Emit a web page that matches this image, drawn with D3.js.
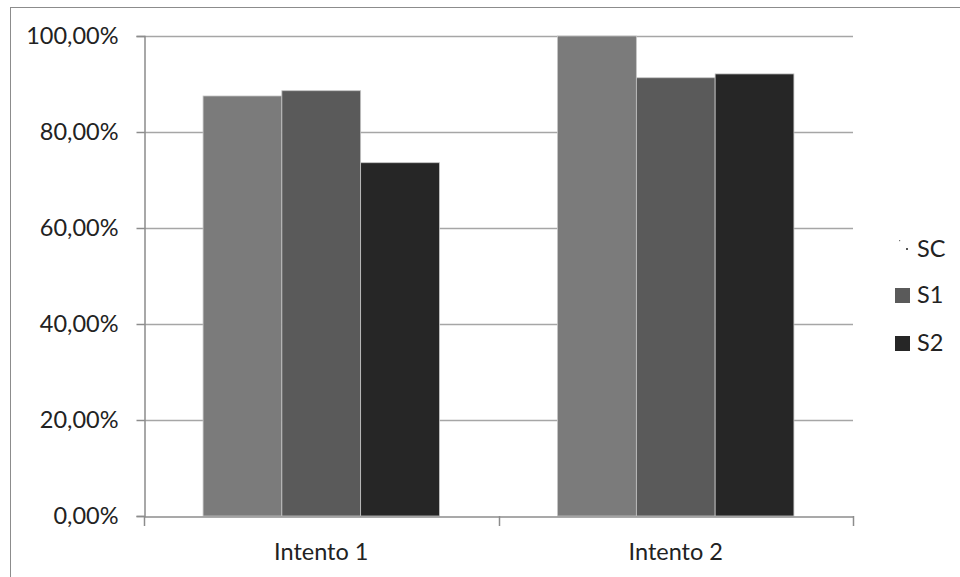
<!DOCTYPE html>
<html>
<head>
<meta charset="utf-8">
<script src="https://cdn.jsdelivr.net/npm/d3@7"></script>
<style>
html,body{margin:0;padding:0;background:#fff;}
svg{display:block;font-family:Lato,"Open Sans",sans-serif;}
</style>
</head>
<body>
<svg id="chart" width="960" height="577"></svg>
<script>
const categories = ["Intento 1", "Intento 2"];
const seriesNames = ["SC", "S1", "S2"];
const valuesSC = [0.875, 1.0];
const valuesS1 = [0.886, 0.913];
const valuesS2 = [0.736, 0.921];
const yTicks = [0, 0.2, 0.4, 0.6, 0.8, 1.0];
const seriesColors = ["#7b7b7b", "#5a5a5a", "#262626"];

(function () {
const seriesValues = [valuesSC, valuesS1, valuesS2];
const svg = d3.select("#chart");
const FS = 23.5;

// outer chart border
svg.append("rect").attr("x", 10.5).attr("y", 7.5).attr("width", 960).attr("height", 600)
  .attr("fill", "none").attr("stroke", "#8c8c8c").attr("stroke-width", 1);

const pLeft = 144, pRight = 853, pTop = 36, pBottom = 516;
const x0 = d3.scaleBand().domain(categories).range([pLeft, pRight]).padding(0);
const x1 = d3.scaleBand().domain(seriesNames).range([0, x0.bandwidth()]).paddingInner(0).paddingOuter(0.75);
const y = d3.scaleLinear().domain([0, 1]).range([pBottom, pTop]);

const fmt = v => d3.format(".2f")(v * 100).replace(".", ",") + "%";

// gridlines
svg.append("g").selectAll("line").data(yTicks.filter(t => t > 0)).join("line")
  .attr("x1", pLeft).attr("x2", pRight)
  .attr("y1", d => Math.round(y(d)) + 0.5).attr("y2", d => Math.round(y(d)) + 0.5)
  .attr("stroke", "#a6a6a6").attr("stroke-width", 1.5);

// y axis
const yAxis = d3.axisLeft(y).tickValues(yTicks).tickFormat(fmt).tickSize(8).tickPadding(18);
const gy = svg.append("g").attr("transform", `translate(${pLeft + 0.5},0)`).call(yAxis);
gy.select(".domain").attr("stroke", "#8c8c8c").attr("stroke-width", 1.5);
gy.selectAll(".tick line").attr("stroke", "#8c8c8c").attr("stroke-width", 1.5);
gy.selectAll(".tick text").attr("font-size", FS).attr("fill", "#222").attr("font-family", "Lato");

// bars
const groups = svg.append("g").selectAll("g").data(categories).join("g")
  .attr("transform", d => `translate(${x0(d)},0)`);
groups.selectAll("rect").data((c, i) => seriesNames.map((s, k) => ({s, v: seriesValues[k][i], k})))
  .join("rect")
  .attr("x", d => x1(d.s)).attr("width", x1.bandwidth())
  .attr("y", d => y(d.v)).attr("height", d => y(0) - y(d.v))
  .attr("fill", d => seriesColors[d.k])
  .attr("stroke", "#c4c4c4").attr("stroke-width", 0.8);

// x axis
const xAxis = d3.axisBottom(x0).tickSize(0).tickPadding(27);
const gx = svg.append("g").attr("transform", `translate(0,${pBottom + 0.5})`).call(xAxis);
gx.select(".domain").attr("stroke", "#8c8c8c").attr("stroke-width", 1.5);
gx.selectAll(".tick text").attr("font-size", FS).attr("fill", "#222").attr("font-family", "Lato");
// category boundary ticks
const bounds = [pLeft, pLeft + x0.bandwidth(), pRight];
svg.append("g").selectAll("line").data(bounds).join("line")
  .attr("x1", d => Math.round(d) + 0.5).attr("x2", d => Math.round(d) + 0.5)
  .attr("y1", pBottom).attr("y2", pBottom + 10)
  .attr("stroke", "#8c8c8c").attr("stroke-width", 1.5);

// legend
const legend = svg.append("g").attr("transform", "translate(895,0)");
const ly = [249, 295, 343];
const li = legend.selectAll("g").data(seriesNames).join("g")
  .attr("transform", (d, i) => `translate(0,${ly[i]})`);
li.each(function(d, i) {
  const g = d3.select(this);
  if (i === 0) {
    g.append("rect").attr("x", 4).attr("y", -9).attr("width", 1.2).attr("height", 1.2).attr("fill", "#777");
    g.append("rect").attr("x", 11).attr("y", -1).attr("width", 2).attr("height", 2).attr("fill", "#555");
  } else {
    g.append("rect").attr("x", 0).attr("y", -7).attr("width", 15).attr("height", 15)
      .attr("fill", seriesColors[i]);
  }
  g.append("text").attr("x", 22).attr("y", 0).attr("dy", "0.36em")
    .attr("font-size", FS).attr("fill", "#222").attr("font-family", "Lato").text(d);
});
})();
</script>
</body>
</html>
